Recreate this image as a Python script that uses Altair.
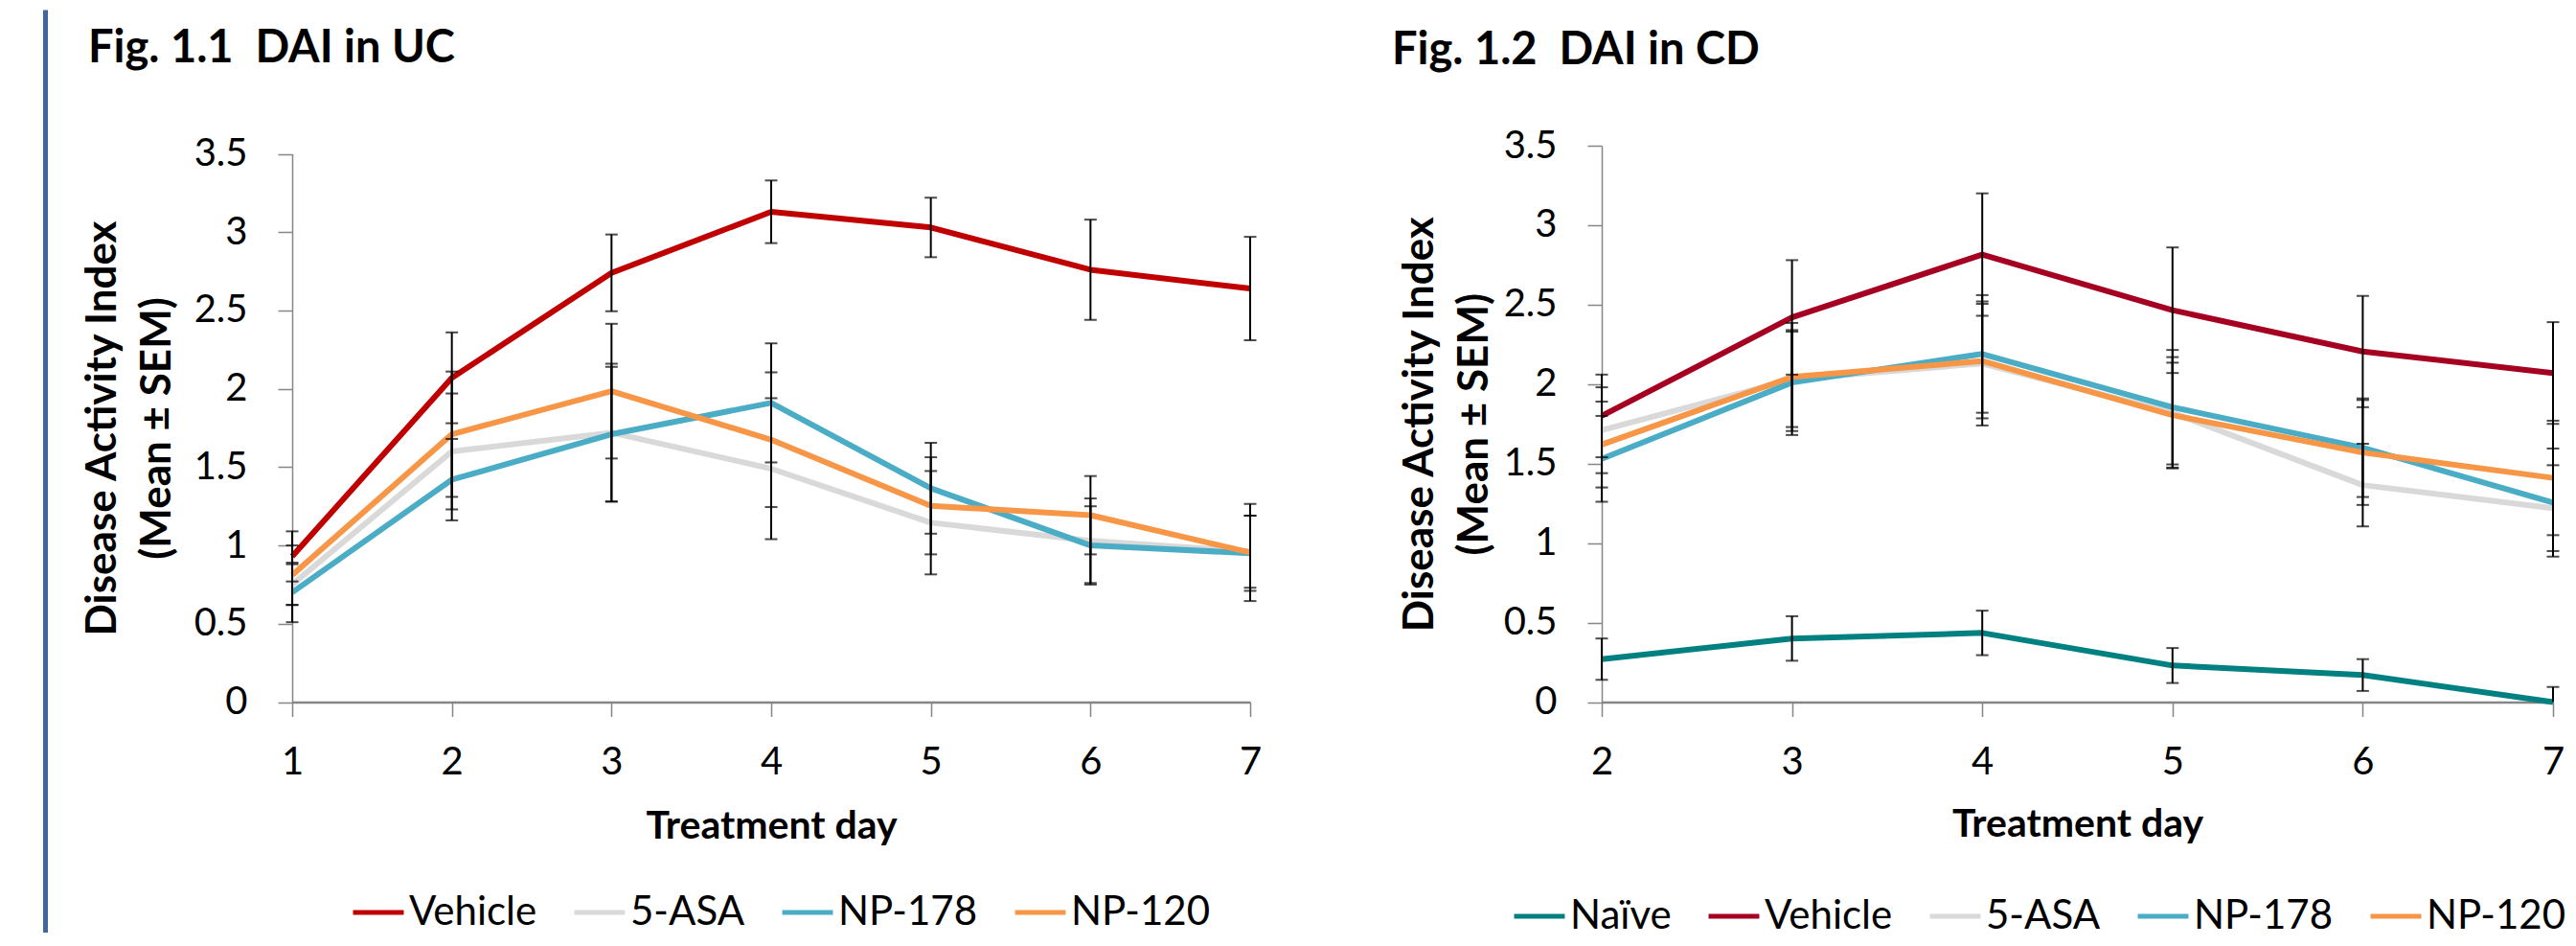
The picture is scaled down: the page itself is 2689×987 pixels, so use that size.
import altair as alt
import pandas as pd

# ---------------- data ----------------
y_ticks = [0, 0.5, 1, 1.5, 2, 2.5, 3, 3.5]

# Fig 1.1  DAI in UC
days_uc = [1, 2, 3, 4, 5, 6, 7]
groups_uc = ["Vehicle", "5-ASA", "NP-178", "NP-120"]
colors_uc = ["#C00000", "#D9D9D9", "#4BACC6", "#F79646"]
vehicle_uc = [0.93, 2.07, 2.74, 3.13, 3.03, 2.76, 2.64]
vehicle_uc_sem = [0.16, 0.29, 0.245, 0.20, 0.19, 0.32, 0.33]
asa_uc = [0.75, 1.60, 1.72, 1.49, 1.145, 1.03, 0.96]
asa_uc_sem = [0.13, 0.37, 0.44, 0.45, 0.33, 0.27, 0.23]
np178_uc = [0.70, 1.42, 1.71, 1.91, 1.365, 1.00, 0.95]
np178_uc_sem = [0.19, 0.26, 0.43, 0.38, 0.29, 0.25, 0.24]
np120_uc = [0.81, 1.71, 1.985, 1.675, 1.253, 1.193, 0.955]
np120_uc_sem = [0.19, 0.40, 0.43, 0.43, 0.31, 0.25, 0.31]

# Fig 1.2  DAI in CD
days_cd = [2, 3, 4, 5, 6, 7]
groups_cd = ["Naïve", "Vehicle", "5-ASA", "NP-178", "NP-120"]
colors_cd = ["#008080", "#A50021", "#D9D9D9", "#4BACC6", "#F79646"]
naive_cd = [0.27, 0.40, 0.435, 0.23, 0.17, 0.0]
naive_cd_sem = [0.13, 0.14, 0.14, 0.11, 0.10, 0.095]
vehicle_cd = [1.80, 2.42, 2.815, 2.465, 2.205, 2.07]
vehicle_cd_sem = [0.26, 0.36, 0.385, 0.395, 0.35, 0.32]
asa_cd = [1.71, 2.03, 2.13, 1.82, 1.365, 1.22]
asa_cd_sem = [0.27, 0.30, 0.39, 0.35, 0.26, 0.27]
np178_cd = [1.53, 2.01, 2.19, 1.855, 1.60, 1.255]
np178_cd_sem = [0.27, 0.33, 0.37, 0.36, 0.31, 0.34]
np120_cd = [1.62, 2.045, 2.145, 1.805, 1.57, 1.41]
np120_cd_sem = [0.27, 0.34, 0.36, 0.33, 0.33, 0.36]


def build(days, groups, means, sems):
    rows = []
    for g, m, s in zip(groups, means, sems):
        for d, mv, sv in zip(days, m, s):
            rows.append({"day": d, "group": g, "mean": mv,
                         "lower": max(0.0, mv - sv), "upper": mv + sv,
                         "lowcap": mv - sv})
    return pd.DataFrame(rows)


df_uc = build(days_uc, groups_uc,
              [vehicle_uc, asa_uc, np178_uc, np120_uc],
              [vehicle_uc_sem, asa_uc_sem, np178_uc_sem, np120_uc_sem])
df_cd = build(days_cd, groups_cd,
              [naive_cd, vehicle_cd, asa_cd, np178_cd, np120_cd],
              [naive_cd_sem, vehicle_cd_sem, asa_cd_sem, np178_cd_sem, np120_cd_sem])

FONT = "Lato"
GRAY = "#868686"
H = 582.5


def panel(df, days, groups, colors, title, W, y_top, title_dx, title_dy,
          leg_x, leg_y, ytitle_x, xtitle_y, decor):
    x_axis = alt.Axis(values=days, format="d", title="Treatment day",
                      titleFont=FONT, titleFontSize=41, titleFontWeight="bold",
                      titleColor="black", titleBaseline="alphabetic",
                      titleX=W / 2, titleY=xtitle_y,
                      labelFont=FONT, labelFontSize=40, labelColor="black",
                      labelPadding=28, tickSize=15, tickWidth=1.5,
                      tickColor=GRAY, domainColor=GRAY, domainWidth=2.5,
                      grid=False, labelFlush=False)
    y_axis = alt.Axis(values=y_ticks, format="~g",
                      title=["Disease Activity Index", "(Mean ± SEM)"],
                      titleFont=FONT, titleFontSize=44, titleFontWeight="bold",
                      titleColor="black", titleLineHeight=57,
                      titleBaseline="alphabetic", titleAngle=270,
                      titleX=ytitle_x, titleY=(H + y_top) / 2,
                      titleAlign="center",
                      labelFont=FONT, labelFontSize=40, labelColor="black",
                      labelPadding=32, tickSize=15, tickWidth=1.5,
                      tickColor=GRAY, domainColor=GRAY, domainWidth=1.5,
                      grid=False, labelFlush=False)
    xs = alt.Scale(domain=[days[0], days[-1]], nice=False, zero=False)
    ys = alt.Scale(domain=[0, 3.5], nice=False, range=[H, y_top])

    base = alt.Chart(df)
    lines = base.mark_line(strokeWidth=6, strokeJoin="round").encode(
        x=alt.X("day:Q", scale=xs, axis=x_axis),
        y=alt.Y("mean:Q", scale=ys, axis=y_axis),
        color=alt.Color("group:N", sort=groups,
                        scale=alt.Scale(domain=groups, range=colors),
                        legend=alt.Legend(title=None, orient="none",
                                          legendX=leg_x, legendY=leg_y,
                                          direction="horizontal",
                                          columns=len(groups),
                                          symbolType="stroke",
                                          symbolStrokeWidth=5,
                                          symbolSize=2800,
                                          labelFont=FONT, labelFontSize=42,
                                          labelColor="black", labelOffset=3,
                                          columnPadding=28, padding=0,
                                          labelLimit=0)),
        detail="group:N",
    )
    bars = base.mark_rule(color="black", strokeWidth=2).encode(
        x=alt.X("day:Q", scale=xs, axis=x_axis),
        y=alt.Y("lower:Q", scale=ys, axis=y_axis),
        y2="upper:Q",
    )
    cap_hi = base.mark_tick(color="black", thickness=2, size=13,
                            orient="horizontal").encode(
        x=alt.X("day:Q", scale=xs, axis=x_axis),
        y=alt.Y("upper:Q", scale=ys, axis=y_axis),
    )
    cap_lo = base.mark_tick(color="black", thickness=2, size=13,
                            orient="horizontal").encode(
        x=alt.X("day:Q", scale=xs, axis=x_axis),
        y=alt.Y("lowcap:Q", scale=ys, axis=y_axis),
    ).transform_filter("datum.lowcap >= 0")

    layers = [lines, bars, cap_hi, cap_lo] + decor
    return alt.layer(*layers).properties(
        width=W, height=H,
        title=alt.TitleParams(text=title, anchor="start", frame="group",
                              dx=title_dx, dy=title_dy, font=FONT,
                              fontSize=47, fontWeight="bold", color="black",
                              baseline="alphabetic", offset=0),
    )


dummy = pd.DataFrame({"k": [0]})
blue_edge = alt.Chart(dummy).mark_rule(color="#41679E", strokeWidth=5).encode(
    x=alt.value(-257.5), y=alt.value(-139.5), y2=alt.value(823))
left_anchor = alt.Chart(dummy).mark_rule(color="white", strokeWidth=1).encode(
    x=alt.value(1030), y=alt.value(0), y2=alt.value(1))
right_anchor = alt.Chart(dummy).mark_rule(color="white", strokeWidth=1).encode(
    x=alt.value(-231), y=alt.value(-139.5), y2=alt.value(-138.5))

left = panel(df_uc, days_uc, groups_uc, colors_uc, "Fig. 1.1\u00a0 DAI in UC",
             1000, 10.5, -213, 104, 61, 773, -185, 142,
             [blue_edge, left_anchor])
right = panel(df_cd, days_cd, groups_cd, colors_cd, "Fig. 1.2\u00a0 DAI in CD",
              993, 2, -219, 104, -94, 777, -177, 140, [right_anchor])

chart = alt.hconcat(left, right, spacing=104).resolve_scale(
    color="independent", x="independent", y="independent"
).properties(
    padding={"left": 37, "top": 0, "right": 0, "bottom": 0},
    background="white",
).configure_view(stroke=None)

chart.save("out.html", embed_options={"renderer": "svg", "actions": False})
